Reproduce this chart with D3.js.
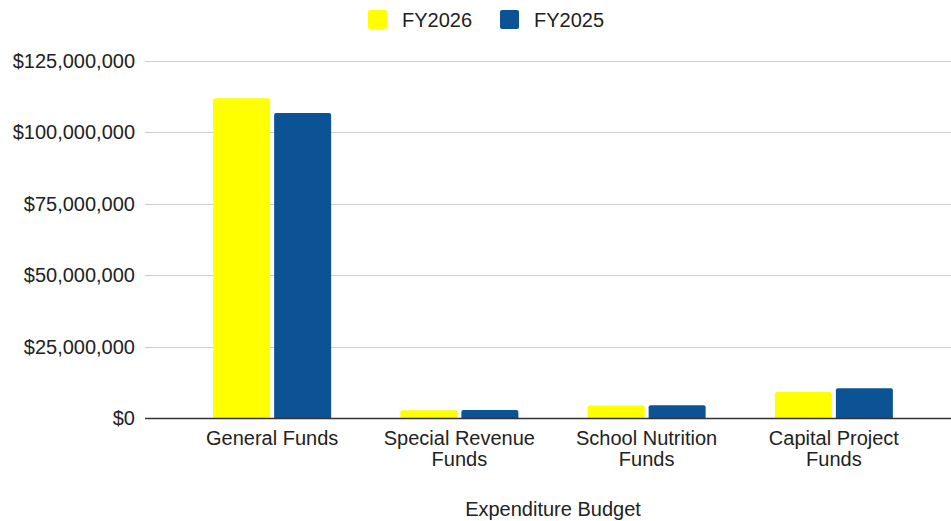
<!DOCTYPE html>
<html>
<head>
<meta charset="utf-8">
<script src="https://cdn.jsdelivr.net/npm/d3@7"></script>
<style>
  html, body { margin: 0; padding: 0; background: #fff; }
  svg { display: block; font-family: "Liberation Sans", Arial, sans-serif; }
</style>
</head>
<body>
<svg id="chart" width="951" height="521"></svg>
<script>
// Expenditure budget by fund, FY2026 vs FY2025
const categories = [["General Funds"], ["Special Revenue", "Funds"], ["School Nutrition", "Funds"], ["Capital Project", "Funds"]];
const seriesNames = ["FY2026", "FY2025"];
const fy2026 = [112000000, 2700000, 4400000, 9100000];
const fy2025 = [106800000, 2800000, 4500000, 10400000];
const yTicks = [0, 25000000, 50000000, 75000000, 100000000, 125000000];
const colors = ["#ffff00", "#0b5394"];

const svg = d3.select("#chart");
const W = 951;
const FS = 20;

const y = d3.scaleLinear().domain([0, 125000000]).range([418, 61]);
const x0 = d3.scaleBand().domain(d3.range(categories.length)).range([178.5, 927.5]).paddingInner(0).paddingOuter(0);
const barW = 57, gap = 4;

// gridlines
svg.append("g").selectAll("line").data(yTicks.filter(d => d > 0)).join("line")
  .attr("x1", 145).attr("x2", W)
  .attr("y1", d => Math.round(y(d)) + 0.5).attr("y2", d => Math.round(y(d)) + 0.5)
  .attr("stroke", "#cccccc").attr("stroke-width", 1);

// y axis labels
const fmt = d => "$" + d3.format(",")(d);
svg.append("g").selectAll("text").data(yTicks).join("text")
  .attr("x", 135).attr("y", d => y(d)).attr("dy", "0.35em")
  .attr("text-anchor", "end").attr("font-size", FS).attr("fill", "#222")
  .text(fmt);

// bars
const data = categories.map((c, i) => [fy2026[i], fy2025[i]]);
const groups = svg.append("g").selectAll("g").data(data).join("g")
  .attr("transform", (d, i) => `translate(${x0(i) + x0.bandwidth() / 2},0)`);
groups.selectAll("path").data(d => d.map((v, j) => ({ v, j }))).join("path")
  .attr("fill", d => colors[d.j])
  .attr("d", d => {
    const left = d.j === 0 ? -(barW + gap / 2) : gap / 2;
    const top = y(d.v), bot = y(0), r = 2;
    const h = bot - top;
    const rr = Math.min(r, h / 2);
    return `M${left},${bot}V${top + rr}Q${left},${top} ${left + rr},${top}H${left + barW - rr}Q${left + barW},${top} ${left + barW},${top + rr}V${bot}Z`;
  });

// baseline
svg.append("line").attr("x1", 145).attr("x2", W)
  .attr("y1", 418.5).attr("y2", 418.5)
  .attr("stroke", "#333").attr("stroke-width", 1.5);

// category labels
const xl = svg.append("g").selectAll("text").data(categories).join("text")
  .attr("x", (d, i) => x0(i) + x0.bandwidth() / 2)
  .attr("y", 445).attr("text-anchor", "middle").attr("font-size", FS).attr("fill", "#222");
xl.selectAll("tspan").data(d => d).join("tspan")
  .attr("x", function () { return d3.select(this.parentNode).attr("x"); })
  .attr("dy", (d, i) => i === 0 ? 0 : 21)
  .text(d => d);

// axis title
svg.append("text").attr("x", 553).attr("y", 516).attr("text-anchor", "middle")
  .attr("font-size", FS).attr("fill", "#222").text("Expenditure Budget");

// legend
const legendX = [368, 500];
const lg = svg.append("g").selectAll("g").data(seriesNames).join("g")
  .attr("transform", (d, i) => `translate(${legendX[i]},10)`);
lg.append("rect").attr("width", 19).attr("height", 19).attr("rx", 2)
  .attr("fill", (d, i) => colors[i]);
lg.append("text").attr("x", 34).attr("y", 9.5).attr("dy", "0.35em")
  .attr("font-size", FS).attr("fill", "#222").text(d => d);
</script>
</body>
</html>
